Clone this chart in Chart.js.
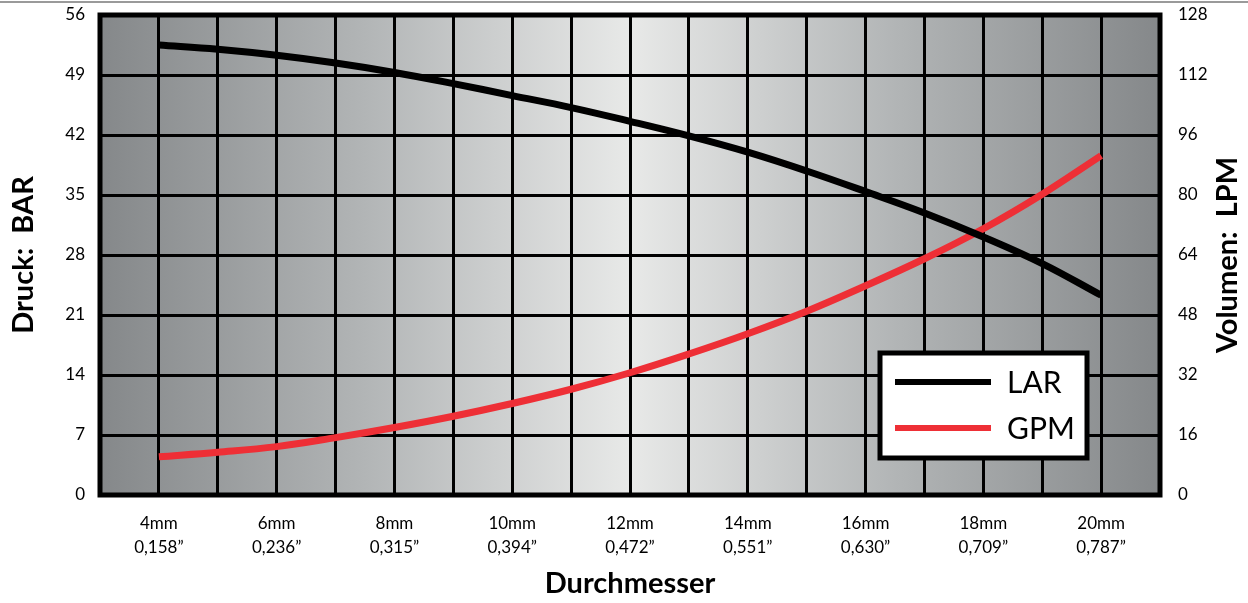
<!DOCTYPE html>
<html>
<head>
<meta charset="utf-8">
<script src="https://cdn.jsdelivr.net/npm/chart.js@4"></script>
<style>
  html, body { margin: 0; padding: 0; background: #fff; }
  #wrap { width: 1248px; height: 603px; }
</style>
</head>
<body>
<div id="wrap"><canvas id="chart" width="1248" height="603"></canvas></div>
<script>
// diameters in mm, one reading per grid column
const diameterMm = [4, 5, 6, 7, 8, 9, 10, 11, 12, 13, 14, 15, 16, 17, 18, 19, 20];
// pressure (left axis, BAR)
const larValues = [52.5, 52.0, 51.3, 50.4, 49.3, 48.0, 46.6, 45.2, 43.6, 41.9, 40.0, 37.8, 35.4, 32.9, 30.1, 27.0, 23.3];
// volume (right axis, LPM)
const gpmValues = [10.2, 11.4, 12.9, 15.3, 18.0, 21.0, 24.4, 28.2, 32.6, 37.6, 43.0, 49.0, 55.8, 63.0, 71.0, 80.2, 90.5];

// labelled ticks on the x axis
const tickMm = [4, 6, 8, 10, 12, 14, 16, 18, 20];
const tickInch = ["0,158\u201d", "0,236\u201d", "0,315\u201d", "0,394\u201d", "0,472\u201d", "0,551\u201d", "0,630\u201d", "0,709\u201d", "0,787\u201d"];

const FONT = "Lato, 'Open Sans', sans-serif";

// gray gradient behind the plot + thin rule at top of page
const bgPlugin = {
  id: "bg",
  beforeDraw(chart) {
    const { ctx, chartArea: a } = chart;
    ctx.save();
    ctx.fillStyle = "#9a9a9a";
    ctx.fillRect(0, 1, chart.width, 2);
    const g = ctx.createLinearGradient(a.left, 0, a.right, 0);
    g.addColorStop(0, "#85888a");
    g.addColorStop(0.25, "#b2b5b6");
    g.addColorStop(0.5, "#e8e9e8");
    g.addColorStop(0.75, "#b2b5b6");
    g.addColorStop(1, "#85888a");
    ctx.fillStyle = g;
    ctx.fillRect(a.left, a.top, a.right - a.left, a.bottom - a.top);
    ctx.restore();
  },
  afterDatasetsDraw(chart) {
    const { ctx, chartArea: a } = chart;
    ctx.save();
    ctx.strokeStyle = "#000";
    ctx.lineWidth = 5;
    ctx.strokeRect(a.left, a.top, a.right - a.left, a.bottom - a.top);
    ctx.restore();
  },
  afterDraw(chart) {
    const { ctx, chartArea: a } = chart;
    ctx.save();
    // right axis title, reads bottom to top
    ctx.translate(1228, (a.top + a.bottom) / 2);
    ctx.rotate(-Math.PI / 2);
    ctx.font = "bold 29px " + FONT;
    ctx.fillStyle = "#000";
    ctx.textAlign = "center";
    ctx.textBaseline = "middle";
    ctx.fillText("Volumen:  LPM", 0, 0);
    ctx.restore();

    // legend box inside the plot
    const bx = a.right - 280, by = a.bottom - 142, bw = 207, bh = 105;
    ctx.save();
    ctx.fillStyle = "#fff";
    ctx.fillRect(bx, by, bw, bh);
    ctx.strokeStyle = "#000";
    ctx.lineWidth = 5;
    ctx.strokeRect(bx, by, bw, bh);
    ctx.font = "30px " + FONT;
    ctx.textBaseline = "middle";
    chart.data.datasets.forEach((ds, i) => {
      const y = by + 29 + i * 46;
      ctx.strokeStyle = ds.borderColor;
      ctx.lineWidth = 6;
      ctx.beginPath();
      ctx.moveTo(bx + 15, y);
      ctx.lineTo(bx + 111, y);
      ctx.stroke();
      ctx.fillStyle = "#000";
      ctx.fillText(ds.label, bx + 127, y + 1);
    });
    ctx.restore();
  }
};

// fixed axis sizes, no extra label padding around the plot
const fixWidth = w => s => { s.width = w; s.paddingTop = 0; s.paddingBottom = 0; };

new Chart(document.getElementById("chart"), {
  type: "line",
  data: {
    datasets: [
      {
        label: "LAR",
        data: diameterMm.map((d, i) => ({ x: d, y: larValues[i] })),
        borderColor: "#000000",
        borderWidth: 7,
        pointRadius: 0,
        tension: 0.4,
        yAxisID: "y"
      },
      {
        label: "GPM",
        data: diameterMm.map((d, i) => ({ x: d, y: gpmValues[i] })),
        borderColor: "#ee2f36",
        borderWidth: 7,
        pointRadius: 0,
        tension: 0.4,
        yAxisID: "y1"
      }
    ]
  },
  options: {
    responsive: false,
    animation: false,
    layout: { padding: { top: 15, left: 0, right: 0, bottom: 0 } },
    plugins: { legend: { display: false }, tooltip: { enabled: false } },
    scales: {
      x: {
        type: "linear",
        min: 3,
        max: 21,
        afterFit: s => { s.height = 108; s.paddingLeft = 0; s.paddingRight = 0; },
        afterBuildTicks: s => {
          s.ticks = [];
          for (let v = 3; v <= 21; v++) s.ticks.push({ value: v });
        },
        border: { display: false },
        grid: { color: "#000", lineWidth: 3, drawTicks: false },
        ticks: {
          autoSkip: false,
          maxRotation: 0,
          padding: 16,
          color: "#000",
          font: { family: FONT, size: 17, lineHeight: 1.45 },
          callback: v => {
            const i = tickMm.indexOf(v);
            return i < 0 ? "" : [tickMm[i] + "mm", tickInch[i]];
          }
        },
        title: {
          display: true,
          text: "Durchmesser",
          color: "#000",
          padding: { top: 0, bottom: 2 },
          font: { family: FONT, size: 29, weight: "bold" }
        }
      },
      y: {
        position: "left",
        min: 0,
        max: 56,
        afterFit: fixWidth(100),
        border: { display: false },
        grid: { color: "#000", lineWidth: 3, drawTicks: false },
        ticks: {
          stepSize: 7,
          padding: 15,
          color: "#000",
          font: { family: FONT, size: 17 }
        },
        title: {
          display: true,
          text: "Druck:  BAR",
          color: "#000",
          padding: { top: 6, bottom: 0 },
          font: { family: FONT, size: 29, weight: "bold" }
        }
      },
      y1: {
        position: "right",
        min: 0,
        max: 128,
        afterFit: fixWidth(88),
        border: { display: false },
        grid: { display: false, drawTicks: false },
        ticks: {
          stepSize: 16,
          padding: 18,
          color: "#000",
          font: { family: FONT, size: 17 }
        }
      }
    }
  },
  plugins: [bgPlugin]
});
</script>
</body>
</html>
